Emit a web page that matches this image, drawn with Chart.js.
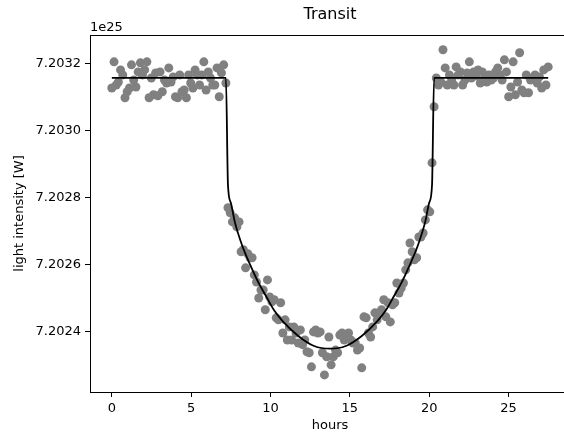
<!DOCTYPE html>
<html>
<head>
<meta charset="utf-8">
<script src="https://cdn.jsdelivr.net/npm/chart.js@4"></script>
<style>
  html, body { margin: 0; padding: 0; background: #fff; overflow: hidden; }
  #wrap { width: 564px; height: 432px; overflow: hidden; }
</style>
</head>
<body>
<div id="wrap"><canvas id="transitChart" width="580" height="432"></canvas></div>
<script>
// measured light curve (values in units of 1e25 W)
const hours = [
  0.00, 0.14, 0.28, 0.41, 0.55, 0.69, 0.83, 0.97, 1.11, 1.24,
  1.38, 1.52, 1.66, 1.80, 1.93, 2.07, 2.21, 2.35, 2.49, 2.63,
  2.76, 2.90, 3.04, 3.18, 3.32, 3.45, 3.59, 3.73, 3.87, 4.01,
  4.15, 4.28, 4.42, 4.56, 4.70, 4.84, 4.97, 5.11, 5.25, 5.39,
  5.53, 5.67, 5.80, 5.94, 6.08, 6.22, 6.36, 6.49, 6.63, 6.77,
  6.91, 7.05, 7.19, 7.32, 7.46, 7.60, 7.74, 7.88, 8.02, 8.15,
  8.29, 8.43, 8.57, 8.71, 8.84, 8.98, 9.12, 9.26, 9.40, 9.54,
  9.67, 9.81, 9.95, 10.09, 10.23, 10.36, 10.50, 10.64, 10.78, 10.92,
  11.06, 11.19, 11.33, 11.47, 11.61, 11.75, 11.88, 12.02, 12.16, 12.30,
  12.44, 12.58, 12.71, 12.85, 12.99, 13.13, 13.27, 13.40, 13.54, 13.68,
  13.82, 13.96, 14.10, 14.23, 14.37, 14.51, 14.65, 14.79, 14.92, 15.06,
  15.20, 15.34, 15.48, 15.62, 15.75, 15.89, 16.03, 16.17, 16.31, 16.44,
  16.58, 16.72, 16.86, 17.00, 17.14, 17.27, 17.41, 17.55, 17.69, 17.83,
  17.96, 18.10, 18.24, 18.38, 18.52, 18.66, 18.79, 18.93, 19.07, 19.21,
  19.35, 19.48, 19.62, 19.76, 19.90, 20.04, 20.18, 20.31, 20.45, 20.59,
  20.73, 20.87, 21.01, 21.14, 21.28, 21.42, 21.56, 21.70, 21.83, 21.97,
  22.11, 22.25, 22.39, 22.53, 22.66, 22.80, 22.94, 23.08, 23.22, 23.35,
  23.49, 23.63, 23.77, 23.91, 24.05, 24.18, 24.32, 24.46, 24.60, 24.74,
  24.87, 25.01, 25.15, 25.29, 25.43, 25.57, 25.70, 25.84, 25.98, 26.12,
  26.26, 26.39, 26.53, 26.67, 26.81, 26.95, 27.09, 27.22, 27.36, 27.50
];
const intensity = [
  7.203126, 7.203204, 7.203135, 7.203144, 7.203180, 7.203165, 7.203097, 7.203115, 7.203126, 7.203195,
  7.203150, 7.203129, 7.203174, 7.203201, 7.203165, 7.203180, 7.203204, 7.203097, 7.203156, 7.203106,
  7.203171, 7.203103, 7.203174, 7.203115, 7.203150, 7.203141, 7.203186, 7.203144, 7.203159, 7.203100,
  7.203097, 7.203165, 7.203115, 7.203120, 7.203097, 7.203165, 7.203141, 7.203126, 7.203180, 7.203165,
  7.203135, 7.203165, 7.203204, 7.203120, 7.203174, 7.203156, 7.203135, 7.203135, 7.203186, 7.203100,
  7.203171, 7.203195, 7.203141, 7.202769, 7.202754, 7.202727, 7.202739, 7.202712, 7.202727, 7.202638,
  7.202644, 7.202590, 7.202632, 7.202620, 7.202620, 7.202569, 7.202548, 7.202500, 7.202524, 7.202524,
  7.202465, 7.202554, 7.202503, 7.202489, 7.202495, 7.202441, 7.202435, 7.202486, 7.202396, 7.202435,
  7.202375, 7.202414, 7.202375, 7.202414, 7.202396, 7.202366, 7.202405, 7.202361, 7.202375, 7.202340,
  7.202337, 7.202295, 7.202399, 7.202405, 7.202396, 7.202399, 7.202337, 7.202271, 7.202325, 7.202384,
  7.202301, 7.202325, 7.202345, 7.202337, 7.202390, 7.202396, 7.202375, 7.202390, 7.202396, 7.202375,
  7.202366, 7.202366, 7.202345, 7.202351, 7.202292, 7.202444, 7.202441, 7.202396, 7.202384, 7.202414,
  7.202456, 7.202435, 7.202456, 7.202465, 7.202495, 7.202444, 7.202486, 7.202429, 7.202480, 7.202486,
  7.202545, 7.202515, 7.202530, 7.202545, 7.202584, 7.202605, 7.202664, 7.202638, 7.202614, 7.202620,
  7.202682, 7.202682, 7.202694, 7.202733, 7.202763, 7.202757, 7.202903, 7.203070, 7.203156, 7.203135,
  7.203144, 7.203240, 7.203186, 7.203135, 7.203165, 7.203150, 7.203135, 7.203189, 7.203165, 7.203174,
  7.203135, 7.203150, 7.203171, 7.203204, 7.203156, 7.203174, 7.203162, 7.203180, 7.203141, 7.203174,
  7.203156, 7.203144, 7.203165, 7.203150, 7.203156, 7.203174, 7.203186, 7.203165, 7.203150, 7.203210,
  7.203174, 7.203100, 7.203129, 7.203204, 7.203106, 7.203144, 7.203231, 7.203120, 7.203112, 7.203165,
  7.203112, 7.203150, 7.203156, 7.203165, 7.203141, 7.203159, 7.203126, 7.203180, 7.203135, 7.203189
];

// fitted transit model
const modelHours = [0, 7.19, 7.32, 7.50, 7.75, 8.25, 8.75, 9.25, 9.75, 10.25, 10.75, 11.75, 12.75,
  13.75, 14.75, 15.75, 16.75, 17.25, 17.75, 18.25, 18.75, 19.25, 19.75, 20.00, 20.18, 20.31, 27.50];
const modelValues = [7.203156, 7.203156, 7.202837, 7.202784, 7.202727, 7.202652, 7.202596, 7.202545,
  7.202503, 7.202462, 7.202432, 7.202387, 7.202357, 7.202349, 7.202357, 7.202387, 7.202432, 7.202462,
  7.202503, 7.202545, 7.202596, 7.202652, 7.202727, 7.202784, 7.202837, 7.203156, 7.203156];

const xTicks = [0, 5, 10, 15, 20, 25];
const yTicks = [7.2024, 7.2026, 7.2028, 7.2030, 7.2032];

const font = 'DejaVu Sans';

// matplotlib-like frame, title and offset text
const framePlugin = {
  id: 'frame',
  afterDraw(chart) {
    const { ctx, chartArea: a } = chart;
    ctx.save();
    ctx.strokeStyle = '#000';
    ctx.lineWidth = 1;
    ctx.strokeRect(a.left + 0.5, a.top + 0.5, a.right - a.left, a.bottom - a.top);
    ctx.fillStyle = '#000';
    ctx.textBaseline = 'alphabetic';
    ctx.font = '16px "' + font + '"';
    ctx.textAlign = 'center';
    ctx.fillText('Transit', (a.left + a.right) / 2, 19);
    ctx.font = '13px "' + font + '"';
    ctx.textAlign = 'left';
    ctx.fillText('1e25', a.left, 31);
    ctx.restore();
  }
};

const ctx = document.getElementById('transitChart');
new Chart(ctx, {
  data: {
    datasets: [{
      type: 'line',
      label: 'model',
      data: modelHours.map((h, i) => ({ x: h, y: modelValues[i] })),
      borderColor: '#000',
      borderWidth: 1.8,
      pointRadius: 0,
      fill: false,
      cubicInterpolationMode: 'monotone',
      order: 0
    }, {
      type: 'scatter',
      label: 'data',
      data: hours.map((h, i) => ({ x: h, y: intensity[i] })),
      backgroundColor: '#808080',
      borderWidth: 0,
      pointRadius: 4.5,
      order: 1
    }]
  },
  options: {
    responsive: false,
    animation: false,
    devicePixelRatio: 1,
    layout: { padding: { left: 0, right: 10, top: 35, bottom: 0 } },
    plugins: { legend: { display: false }, tooltip: { enabled: false } },
    events: [],
    scales: {
      x: {
        type: 'linear',
        min: -1.375,
        max: 28.875,
        afterFit: s => { s.height = 40; },
        afterBuildTicks: s => { s.ticks = xTicks.map(v => ({ value: v })); },
        border: { display: false },
        grid: { drawOnChartArea: false, drawTicks: true, tickLength: 5, tickColor: '#000' },
        ticks: { color: '#000', padding: 4, maxRotation: 0, font: { family: font, size: 13 } },
        title: { display: true, text: 'hours', color: '#000', padding: 0, font: { family: font, size: 13, lineHeight: 1 } }
      },
      y: {
        type: 'linear',
        min: 7.20222,
        max: 7.203284,
        afterFit: s => { s.width = 90; },
        afterBuildTicks: s => { s.ticks = yTicks.map(v => ({ value: v })); },
        border: { display: false },
        grid: { drawOnChartArea: false, drawTicks: true, tickLength: 5, tickColor: '#000' },
        ticks: { color: '#000', padding: 4, font: { family: font, size: 13 }, callback: v => v.toFixed(4) },
        title: { display: true, text: 'light intensity [W]', color: '#000', padding: { top: 12, bottom: 0 }, font: { family: font, size: 13 } }
      }
    }
  },
  plugins: [framePlugin]
});
</script>
</body>
</html>
